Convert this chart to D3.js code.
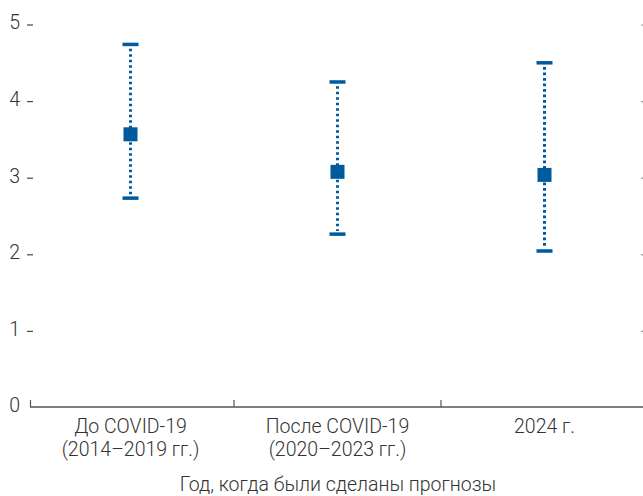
<!DOCTYPE html>
<html>
<head>
<meta charset="utf-8">
<style>
    body { margin: 0; background: #fff; }
    svg { display: block; font-family: Roboto, 'Noto Sans', sans-serif; }
    .lbl { fill: #333; font-size: 19.5px; font-weight: 300; }
</style>
</head>
<body>
<svg id="chart" width="643" height="496"></svg>
<script src="https://cdn.jsdelivr.net/npm/d3@7/dist/d3.min.js"></script>
<script>
    // data
    let groups = ["До COVID-19|(2014–2019 гг.)", "После COVID-19|(2020–2023 гг.)", "2024 г."]
    let means = [3.56, 3.07, 3.03]
    let lows = [2.73, 2.26, 2.04]
    let highs = [4.73, 4.24, 4.49]
    let yTicks = [0, 1, 2, 3, 4, 5]

    let blue = "#005a9e"
    let axisColor = "#555"

    let svg = d3.select("#chart")

    let x = d3.scaleBand()
        .domain(groups)
        .range([27, 648])

    let y = d3.scaleLinear()
        .domain([0, 5])
        .range([407, 24])

    let data = groups.map((g, i) => ({g: g, mean: means[i], lo: lows[i], hi: highs[i]}))

    // baseline
    svg.append("line")
        .attr("x1", 30).attr("x2", 643)
        .attr("y1", y(0)).attr("y2", y(0))
        .attr("stroke", axisColor).attr("stroke-width", 1.5)

    svg.append("line")
        .attr("x1", 30.5).attr("x2", 30.5)
        .attr("y1", y(0)).attr("y2", y(0) - 7)
        .attr("stroke", axisColor).attr("stroke-width", 1.2)

    // band separators
    svg.selectAll(".sep")
        .data(groups.slice(1))
        .join("line")
        .attr("x1", d => x(d)).attr("x2", d => x(d))
        .attr("y1", y(0)).attr("y2", y(0) - 7)
        .attr("stroke", axisColor).attr("stroke-width", 1.2)

    // y labels with dashes
    svg.selectAll(".ylab")
        .data(yTicks)
        .join("text")
        .attr("class", "lbl")
        .attr("x", 20)
        .attr("y", d => y(d))
        .attr("dy", "0.28em")
        .attr("text-anchor", "end")
        .text(d => d)

    svg.selectAll(".ydash")
        .data(yTicks.filter(d => d > 0))
        .join("line")
        .attr("x1", 27).attr("x2", 33)
        .attr("y1", d => y(d) + 1).attr("y2", d => y(d) + 1)
        .attr("stroke", "#444").attr("stroke-width", 1.2)

    // right axis dashes (cut off by the edge)
    svg.selectAll(".rdash")
        .data(yTicks.filter(d => d > 0))
        .join("line")
        .attr("x1", 641).attr("x2", 648)
        .attr("y1", d => y(d) + 1).attr("y2", d => y(d) + 1)
        .attr("stroke", "#999").attr("stroke-width", 1.2)

    let cx = d => x(d.g) + x.bandwidth() / 2

    // dotted whiskers
    svg.selectAll(".whisker")
        .data(data)
        .join("line")
        .attr("x1", cx).attr("x2", cx)
        .attr("y1", d => y(d.hi) + 4).attr("y2", d => y(d.lo) - 3)
        .attr("stroke", blue)
        .attr("stroke-width", 3)
        .attr("stroke-dasharray", "2.6 2.9")

    // caps
    svg.selectAll(".capHi")
        .data(data)
        .join("rect")
        .attr("x", d => cx(d) - 8).attr("y", d => y(d.hi) - 2)
        .attr("width", 16).attr("height", 3.5)
        .attr("fill", blue)

    svg.selectAll(".capLo")
        .data(data)
        .join("rect")
        .attr("x", d => cx(d) - 8).attr("y", d => y(d.lo) - 1.5)
        .attr("width", 16).attr("height", 3.5)
        .attr("fill", blue)

    // mean squares
    svg.selectAll(".mean")
        .data(data)
        .join("rect")
        .attr("x", d => cx(d) - 7).attr("y", d => y(d.mean) - 7)
        .attr("width", 14).attr("height", 14)
        .attr("fill", blue)

    // category labels
    svg.selectAll(".xlab")
        .data(groups)
        .join("text")
        .attr("class", "lbl")
        .attr("text-anchor", "middle")
        .attr("x", d => x(d) + x.bandwidth() / 2)
        .attr("y", 433)
        .each(function(d) {
            d.split("|").forEach((line, i) => {
                d3.select(this).append("tspan")
                    .attr("x", x(d) + x.bandwidth() / 2)
                    .attr("dy", i == 0 ? 0 : 23)
                    .text(line)
            })
        })

    svg.append("text")
        .attr("class", "lbl")
        .attr("text-anchor", "middle")
        .attr("x", 338)
        .attr("y", 491)
        .text("Год, когда были сделаны прогнозы")
</script>
</body>
</html>
